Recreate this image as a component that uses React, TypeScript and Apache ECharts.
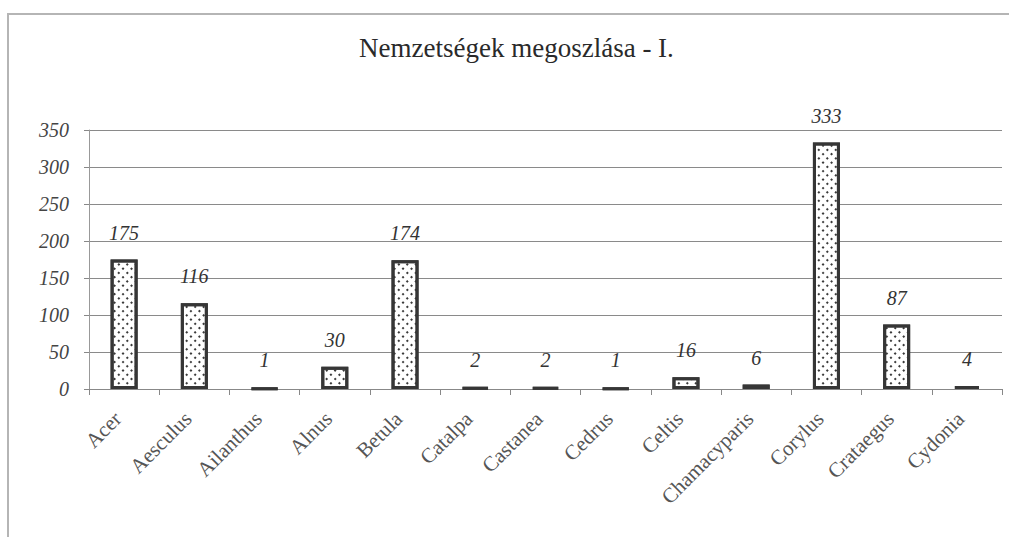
import React, { useEffect, useRef } from "react";
import * as echarts from "echarts";

const title = "Nemzetségek megoszlása - I.";
const categories = [
  "Acer",
  "Aesculus",
  "Ailanthus",
  "Alnus",
  "Betula",
  "Catalpa",
  "Castanea",
  "Cedrus",
  "Celtis",
  "Chamacyparis",
  "Corylus",
  "Crataegus",
  "Cydonia",
];
const values = [175, 116, 1, 30, 174, 2, 2, 1, 16, 6, 333, 87, 4];
const yMin = 0;
const yMax = 350;
const yInterval = 50;

const FONT = "'Liberation Serif', 'DejaVu Serif', serif";

export default function App() {
  const ref = useRef<HTMLDivElement>(null);
  useEffect(() => {
    if (!ref.current) return;
    const chart = echarts.init(ref.current, undefined, { renderer: "svg" });
    chart.setOption({
      animation: false,
      backgroundColor: "#ffffff",
      title: {
        text: title,
        left: 354,
        top: 29,
        textStyle: {
          fontFamily: FONT,
          fontSize: 27,
          fontWeight: "normal",
          color: "#2a2a2a",
        },
      },
      graphic: [
        {
          type: "rect",
          shape: { x: 8, y: 14, width: 1010, height: 540 },
          style: { fill: "none", stroke: "#b5b5b5", lineWidth: 2 },
          silent: true,
          z: -1,
        },
      ],
      grid: { left: 89, right: 7, top: 130, bottom: 148 },
      xAxis: {
        type: "category",
        data: categories,
        axisLine: { show: true, lineStyle: { color: "#888", width: 1 } },
        axisTick: {
          show: true,
          alignWithLabel: false,
          length: 6,
          lineStyle: { color: "#888" },
        },
        axisLabel: {
          rotate: 45,
          margin: 20,
          interval: 0,
          padding: [0, 9, 0, 0],
          fontFamily: FONT,
          fontSize: 21,
          color: "#555",
        },
      },
      yAxis: {
        type: "value",
        min: yMin,
        max: yMax,
        interval: yInterval,
        axisLine: { show: true, lineStyle: { color: "#999", width: 1 } },
        axisTick: { show: true, length: 5, lineStyle: { color: "#888" } },
        splitLine: { show: true, lineStyle: { color: "#8a8a8a", width: 1 } },
        axisLabel: {
          margin: 20,
          fontFamily: FONT,
          fontStyle: "italic",
          fontSize: 20,
          color: "#444",
        },
      },
      series: [
        {
          type: "bar",
          data: values,
          barWidth: 27,
          itemStyle: {
            color: "#ffffff",
            borderColor: "#363636",
            borderWidth: 3,
            decal: {
              symbol: "rect",
              symbolSize: 1,
              color: "#3a3a3a",
              backgroundColor: "#ffffff",
              dashArrayX: [2, 4],
              dashArrayY: [2, 4],
              rotation: Math.PI / 4,
            },
          },
          label: {
            show: true,
            position: "top",
            distance: 17,
            fontFamily: FONT,
            fontStyle: "italic",
            fontSize: 20,
            color: "#333",
          },
        },
      ],
    });
    return () => chart.dispose();
  }, []);
  return (
    <div
      ref={ref}
      style={{ position: "absolute", left: 0, top: 0, width: 1009, height: 537 }}
    />
  );
}
